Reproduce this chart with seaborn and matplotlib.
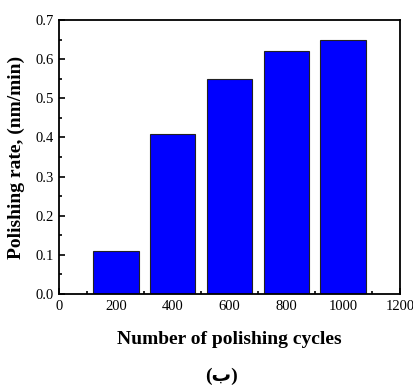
import matplotlib
matplotlib.use("Agg")
import matplotlib.pyplot as plt
import seaborn as sns
import pandas as pd
from matplotlib.ticker import MultipleLocator, FormatStrFormatter

cycles = [200, 400, 600, 800, 1000]
rates = [0.11, 0.41, 0.55, 0.62, 0.65]

df = pd.DataFrame({"cycles": cycles, "rate": rates})

sns.set_style("ticks")
plt.rcParams['font.family'] = ['Liberation Serif', 'DejaVu Sans']
plt.rcParams['text.color'] = 'black'
plt.rcParams['axes.labelcolor'] = 'black'
plt.rcParams['xtick.color'] = 'black'
plt.rcParams['ytick.color'] = 'black'

fig = plt.figure(figsize=(4.14, 3.85), dpi=100)
ax = fig.add_axes([59/414, 1 - 294/385, 341/414, 274/385])

sns.barplot(data=df, x="cycles", y="rate", native_scale=True, width=0.8,
            color="#0000ff", saturation=1, edgecolor="#222222", linewidth=0.8, ax=ax)

ax.set_xlim(0, 1200)
ax.set_ylim(0, 0.7)
ax.xaxis.set_major_locator(MultipleLocator(200))
ax.xaxis.set_minor_locator(MultipleLocator(100))
ax.yaxis.set_major_locator(MultipleLocator(0.1))
ax.yaxis.set_minor_locator(MultipleLocator(0.05))
ax.yaxis.set_major_formatter(FormatStrFormatter("%.1f"))
ax.tick_params(which="both", direction="in", top=False, right=False, labelsize=10.5, width=1.2)
ax.tick_params(which="major", length=4, pad=4)
ax.tick_params(which="minor", length=2)
for s in ax.spines.values():
    s.set_visible(True)
    s.set_linewidth(1.3)
    s.set_color("black")

ax.set_xlabel("Number of polishing cycles", fontsize=14, fontweight="bold")
ax.set_ylabel("Polishing rate, (nm/min)", fontsize=14, fontweight="bold")
ax.xaxis.set_label_coords(0.5, -0.135)
ax.yaxis.set_label_coords(-0.10, 0.5)

fig.text(221/414, 1 - 376/385, "(ب)", ha="center", va="center", fontsize=14,
         fontweight="bold")

fig.savefig("out.png", dpi=100)
